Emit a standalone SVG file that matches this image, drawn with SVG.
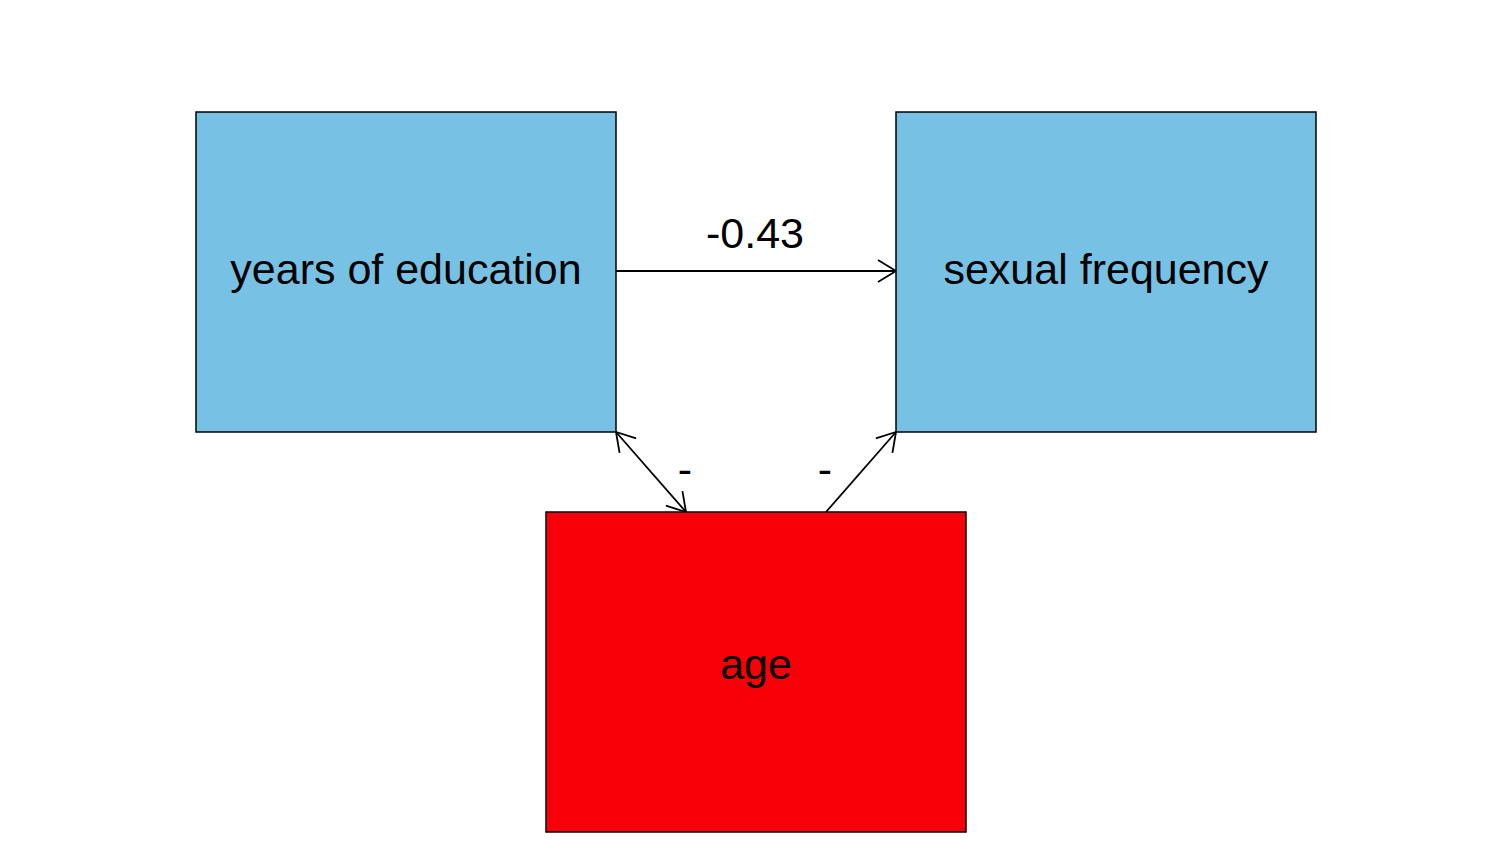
<svg xmlns="http://www.w3.org/2000/svg" width="1512" height="864" viewBox="0 0 1512 864">
<style>
.box{stroke:#000;stroke-width:1.5}
.blue{fill:#77C2E4}
.red{fill:#F90008}
text{font-family:"Liberation Sans",Arial,sans-serif;font-size:43px;fill:#000;text-anchor:middle}
.edge{stroke:#000;stroke-width:1.8;fill:none}
</style>
<defs>
<marker id="arr" markerUnits="userSpaceOnUse" markerWidth="30" markerHeight="30" refX="20" refY="12" orient="auto-start-reverse" viewBox="0 0 30 24">
<path d="M2,1 L20,12 L2,23" fill="none" stroke="#000" stroke-width="1.8"/>
</marker>
</defs>
<rect width="1512" height="864" fill="#fff"/>
<g id="connectors">
<line class="edge" x1="616" y1="271" x2="896" y2="271" marker-end="url(#arr)"/>
<line class="edge" x1="616" y1="432" x2="686" y2="512" marker-start="url(#arr)" marker-end="url(#arr)"/>
<line class="edge" x1="826" y1="512" x2="896" y2="432" marker-end="url(#arr)"/>
<text x="755" y="248">-0.43</text>
<text x="685" y="484">-</text>
<text x="825" y="484">-</text>
</g>
<g id="education">
<rect class="box blue" x="196" y="112" width="420" height="320"/>
<text x="406" y="284">years of education</text>
</g>
<g id="sexfreq">
<rect class="box blue" x="896" y="112" width="420" height="320"/>
<text x="1106" y="284">sexual frequency</text>
</g>
<g id="age">
<rect class="box red" x="546" y="512" width="420" height="320"/>
<text x="756" y="679">age</text>
</g>
</svg>
